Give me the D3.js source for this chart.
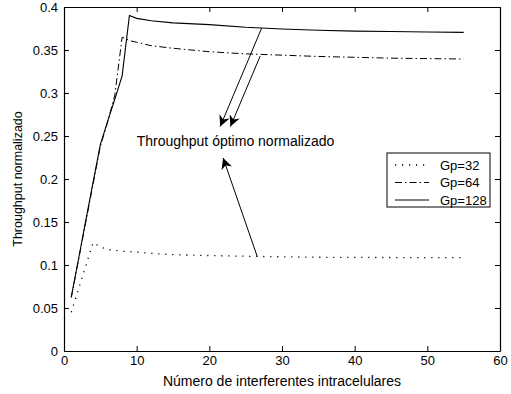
<!DOCTYPE html>
<html>
<head>
<meta charset="utf-8">
<script src="https://cdn.jsdelivr.net/npm/d3@7"></script>
<style>
body { margin: 0; background: #fff; }
text { font-family: "Liberation Sans", Arial, sans-serif; }
</style>
</head>
<body>
<div id="chart"></div>
<script>
// x = number of intracell interferers
var xs = [1, 2, 3, 4, 5, 6, 7, 8, 9, 10, 12, 15, 20, 25, 30, 35, 40, 45, 50, 55];

var gp32  = [0.045, 0.072, 0.099, 0.126, 0.121, 0.118, 0.117, 0.116, 0.1155, 0.115, 0.1135, 0.112, 0.111, 0.1102, 0.1095, 0.109, 0.1088, 0.1087, 0.1086, 0.1085];
var gp64  = [0.062, 0.106, 0.150, 0.194, 0.238, 0.266, 0.298, 0.365, 0.361, 0.359, 0.355, 0.352, 0.348, 0.3455, 0.344, 0.3425, 0.3415, 0.3405, 0.340, 0.3395];
var gp128 = [0.063, 0.107, 0.152, 0.196, 0.240, 0.267, 0.293, 0.320, 0.390, 0.3868, 0.384, 0.3815, 0.3795, 0.3765, 0.3745, 0.373, 0.372, 0.3715, 0.371, 0.3705];

var seriesNames = ["Gp=32", "Gp=64", "Gp=128"];
var xTicks = [0, 10, 20, 30, 40, 50, 60];
var yTicks = [0, 0.05, 0.1, 0.15, 0.2, 0.25, 0.3, 0.35, 0.4];

var width = 511, height = 394;
var margin = {left: 64, top: 7, right: 11, bottom: 43};

var svg = d3.select("#chart").append("svg")
	.attr("width", width)
	.attr("height", height);

var x = d3.scaleLinear().domain([0, 60]).range([margin.left, width - margin.right]);
var y = d3.scaleLinear().domain([0, 0.4]).range([height - margin.bottom, margin.top]);

// ticks inward on all four sides, like matlab box
var tl = 5;
svg.append("g")
	.attr("transform", "translate(0," + y(0) + ")")
	.call(d3.axisBottom(x).tickValues(xTicks).tickSizeInner(-tl).tickSizeOuter(0).tickPadding(5).tickFormat(d3.format("d")));
svg.append("g")
	.attr("transform", "translate(0," + y(0.4) + ")")
	.call(d3.axisTop(x).tickValues(xTicks).tickSizeInner(-tl).tickSizeOuter(0).tickFormat(""));
svg.append("g")
	.attr("transform", "translate(" + x(0) + ",0)")
	.call(d3.axisLeft(y).tickValues(yTicks).tickSizeInner(-tl).tickSizeOuter(0).tickPadding(6).tickFormat(function(d) { return d3.format("")(+d.toFixed(2)); }));
svg.append("g")
	.attr("transform", "translate(" + x(60) + ",0)")
	.call(d3.axisRight(y).tickValues(yTicks).tickSizeInner(-tl).tickSizeOuter(0).tickFormat(""));

svg.selectAll(".domain").attr("stroke", "#000").attr("stroke-width", 1.2);
svg.selectAll(".tick line").attr("stroke", "#000");
svg.selectAll(".tick text").attr("font-size", 13).attr("fill", "#000")
	.style("font-family", "'Liberation Sans', Arial, sans-serif");

var line = d3.line()
	.x(function(d) { return x(d[0]); })
	.y(function(d) { return y(d[1]); });

var styles = [
	{data: gp32, dash: "1.2,5.8", w: 1.3},
	{data: gp64, dash: "7,3,1.5,3", w: 1},
	{data: gp128, dash: null, w: 1.1}
];

styles.forEach(function(s) {
	svg.append("path")
		.datum(xs.map(function(v, i) { return [v, s.data[i]]; }))
		.attr("d", line)
		.attr("fill", "none")
		.attr("stroke", "#000")
		.attr("stroke-width", s.w)
		.attr("stroke-dasharray", s.dash);
});

// arrows
svg.append("defs").append("marker")
	.attr("id", "ah")
	.attr("viewBox", "0 0 10 10")
	.attr("refX", 10).attr("refY", 5)
	.attr("markerWidth", 11).attr("markerHeight", 11)
	.attr("markerUnits", "userSpaceOnUse")
	.attr("orient", "auto")
	.append("path")
	.attr("d", "M0,0 L10,5 L0,10 L3,5 Z")
	.attr("fill", "#000");

var arrows = [
	[[27.2, 0.3755], [21.5, 0.261]],
	[[27.0, 0.3430], [22.9, 0.261]],
	[[26.6, 0.1097], [21.9, 0.2245]]
];
arrows.forEach(function(a) {
	svg.append("line")
		.attr("x1", x(a[0][0])).attr("y1", y(a[0][1]))
		.attr("x2", x(a[1][0])).attr("y2", y(a[1][1]))
		.attr("stroke", "#000").attr("stroke-width", 1)
		.attr("marker-end", "url(#ah)");
});

svg.append("text")
	.attr("x", x(23.6)).attr("y", y(0.244) + 5)
	.attr("text-anchor", "middle")
	.attr("font-size", 14)
	.text("Throughput óptimo normalizado");

// legend
var lg = svg.append("g").attr("transform", "translate(387,153)");
lg.append("rect")
	.attr("width", 103).attr("height", 54)
	.attr("fill", "#fff").attr("stroke", "#000").attr("stroke-width", 1);
seriesNames.forEach(function(name, i) {
	var yy = 12 + i * 17.5;
	lg.append("line")
		.attr("x1", 8).attr("x2", 42).attr("y1", yy).attr("y2", yy)
		.attr("stroke", "#000").attr("stroke-width", styles[i].w)
		.attr("stroke-dasharray", styles[i].dash);
	lg.append("text")
		.attr("x", 53).attr("y", yy + 4.5)
		.attr("font-size", 13)
		.text(name);
});

// axis labels
svg.append("text")
	.attr("x", x(30)).attr("y", 386)
	.attr("text-anchor", "middle")
	.attr("font-size", 14)
	.text("Número de interferentes intracelulares");

svg.append("text")
	.attr("transform", "translate(22," + y(0.2) + ") rotate(-90)")
	.attr("text-anchor", "middle")
	.attr("font-size", 12.5)
	.text("Throughput normalizado");
</script>
</body>
</html>
